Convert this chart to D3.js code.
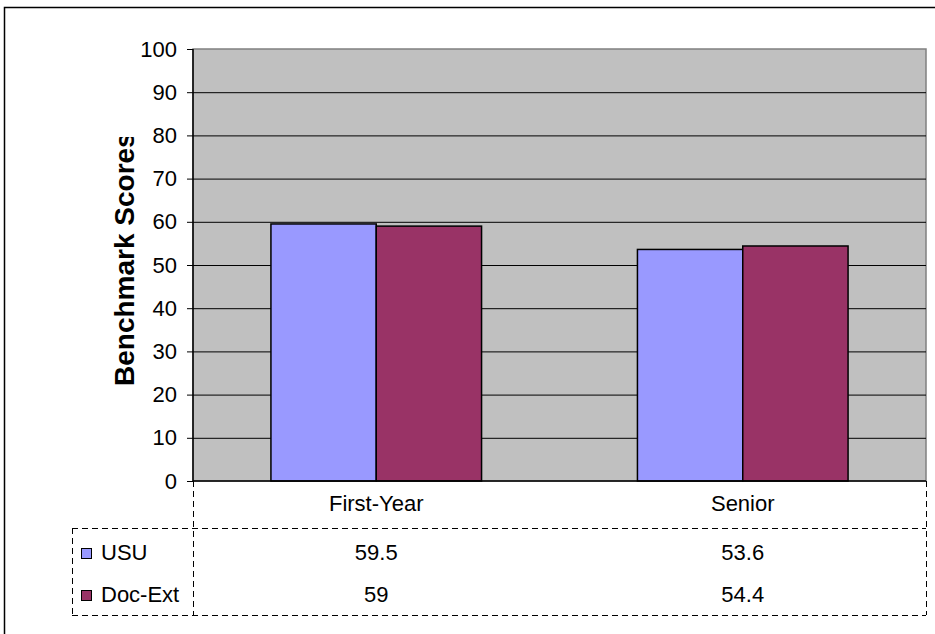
<!DOCTYPE html>
<meta charset="utf-8">
<style>
html, body { margin: 0; background: #fff; overflow: hidden; }
svg { display: block; }
text { font-family: "Liberation Sans", Arial, sans-serif; fill: #000; }
.axis path { display: none; }
.axis line { stroke: #000; }
.axis text { font-size: 22px; }
.grid line { stroke: #000; stroke-width: 1; }
.dash { stroke: #000; stroke-width: 1; stroke-dasharray: 6,4; fill: none; }
</style>
<script src="https://cdn.jsdelivr.net/npm/d3@7"></script>
<body>
<script>

var categories = ["First-Year", "Senior"];
var series = ["USU", "Doc-Ext"];
var usuValues = [59.5, 53.6];
var docExtValues = [59, 54.4];
var valueLabels = [["59.5", "53.6"], ["59", "54.4"]];
var colors = ["#9999FF", "#993366"];
var yTicks = [0, 10, 20, 30, 40, 50, 60, 70, 80, 90, 100];

var width = 935, height = 634;
var plot = {left: 193, right: 926, top: 49, bottom: 481};

var svg = d3.select("body").append("svg")
    .attr("width", width)
    .attr("height", height);

// outer chart border (runs off the right / bottom edge)
svg.append("rect")
    .attr("x", 4.5).attr("y", 7.5)
    .attr("width", 960).attr("height", 660)
    .attr("fill", "none")
    .attr("stroke", "#000")
    .attr("stroke-width", 1.5);

var y = d3.scaleLinear().domain([0, 100]).range([plot.bottom, plot.top]);

var x0 = d3.scaleBand().domain(categories).range([plot.left, plot.right]);
var x1 = d3.scaleBand().domain(series).range([0, x0.bandwidth()]).paddingOuter(0.74);

// plot area
svg.append("rect")
    .attr("x", plot.left).attr("y", plot.top)
    .attr("width", plot.right - plot.left)
    .attr("height", plot.bottom - plot.top)
    .attr("fill", "#C0C0C0")
    .attr("stroke", "#808080")
    .attr("stroke-width", 1.5);

// gridlines
svg.append("g")
    .attr("class", "grid")
    .selectAll("line")
    .data(yTicks.filter(function(d) { return d > 0 && d < 100; }))
    .enter().append("line")
    .attr("x1", plot.left).attr("x2", plot.right)
    .attr("y1", function(d) { return y(d) + 0.5; })
    .attr("y2", function(d) { return y(d) + 0.5; });

// bars
var data = categories.map(function(c, i) {
  return {cat: c, vals: [{s: series[0], v: usuValues[i]}, {s: series[1], v: docExtValues[i]}]};
});

svg.append("g")
    .selectAll("g")
    .data(data)
    .enter().append("g")
    .attr("transform", function(d) { return "translate(" + x0(d.cat) + ",0)"; })
    .selectAll("rect")
    .data(function(d) { return d.vals; })
    .enter().append("rect")
    .attr("x", function(d) { return x1(d.s); })
    .attr("y", function(d) { return y(d.v); })
    .attr("width", x1.bandwidth())
    .attr("height", function(d) { return y(0) - y(d.v); })
    .attr("fill", function(d, i) { return colors[i]; })
    .attr("stroke", "#000")
    .attr("stroke-width", 1.5);

// y axis
var yAxis = d3.axisLeft(y).tickValues(yTicks).tickSize(6).tickPadding(10);
svg.append("g")
    .attr("class", "axis")
    .attr("transform", "translate(" + plot.left + ",0)")
    .call(yAxis);

svg.append("line")
    .attr("x1", plot.left).attr("x2", plot.left)
    .attr("y1", plot.top).attr("y2", plot.bottom)
    .attr("stroke", "#000").attr("stroke-width", 1.5);
svg.append("line")
    .attr("x1", plot.left).attr("x2", plot.right)
    .attr("y1", plot.bottom).attr("y2", plot.bottom)
    .attr("stroke", "#000").attr("stroke-width", 1.5);

// y title, clipped at the top like the original
svg.append("clipPath").attr("id", "titleclip")
  .append("rect").attr("x", 90).attr("y", 137).attr("width", 60).attr("height", 300);

svg.append("g")
    .attr("clip-path", "url(#titleclip)")
  .append("text")
    .attr("transform", "translate(134,386) rotate(-90)")
    .attr("text-anchor", "start")
    .style("font-size", "28px")
    .style("font-weight", "bold")
    .text("Benchmark Scores");

// data table
var rowY = [560, 602];
var table = svg.append("g");

table.selectAll(".cat")
    .data(categories)
    .enter().append("text")
    .attr("x", function(d) { return x0(d) + x0.bandwidth() / 2; })
    .attr("y", 511)
    .attr("text-anchor", "middle")
    .style("font-size", "22px")
    .text(function(d) { return d; });

series.forEach(function(s, r) {
  table.append("rect")
      .attr("x", 81.5).attr("y", rowY[r] - 11.5)
      .attr("width", 10).attr("height", 10)
      .attr("fill", colors[r])
      .attr("stroke", "#000");
  table.append("text")
      .attr("x", 101).attr("y", rowY[r])
      .style("font-size", "22px")
      .text(s);
  table.selectAll(".v" + r)
      .data(categories)
      .enter().append("text")
      .attr("x", function(d) { return x0(d) + x0.bandwidth() / 2; })
      .attr("y", rowY[r])
      .attr("text-anchor", "middle")
      .style("font-size", "22px")
      .text(function(d, i) { return valueLabels[r][i]; });
});

var dashLines = [
  [72, 528.5, plot.right, 528.5],
  [72, 615.5, plot.right, 615.5],
  [72.5, 528, 72.5, 615],
  [plot.left + 0.5, plot.bottom, plot.left + 0.5, 615],
  [plot.right + 0.5, plot.bottom, plot.right + 0.5, 615]
];
table.selectAll(".dash")
    .data(dashLines)
    .enter().append("line")
    .attr("class", "dash")
    .attr("x1", function(d) { return d[0]; })
    .attr("y1", function(d) { return d[1]; })
    .attr("x2", function(d) { return d[2]; })
    .attr("y2", function(d) { return d[3]; });

</script>
</body>
